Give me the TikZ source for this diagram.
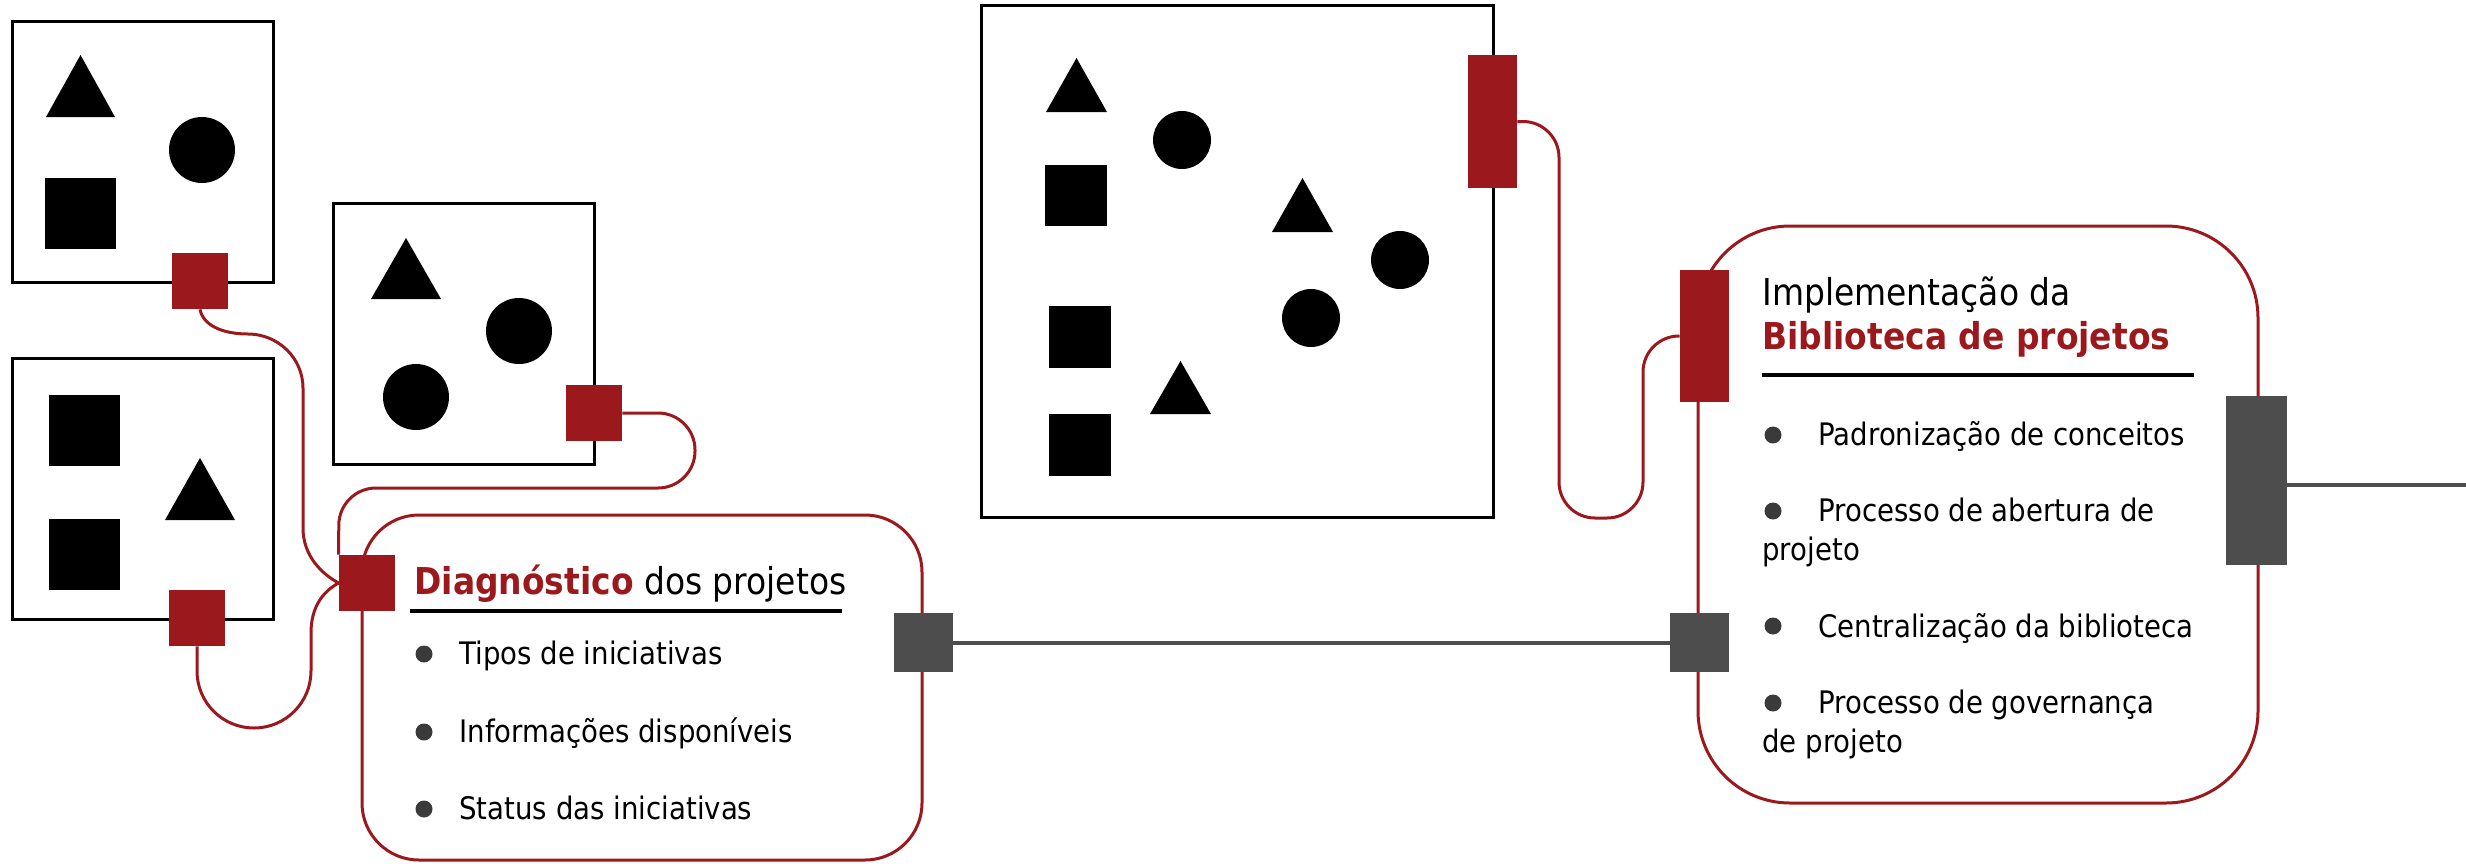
\documentclass[tikz,border=0pt]{standalone}
\usepackage{fontspec}
\setmainfont{DejaVu Sans}[FakeStretch=0.89]
\usetikzlibrary{backgrounds}
\definecolor{rd}{RGB}{155,25,29}
\definecolor{gy}{RGB}{77,77,77}
\definecolor{bl}{RGB}{58,58,58}
\begin{document}
\begin{tikzpicture}[x=0.5pt,y=-0.5pt,
  box/.style={draw=black,line width=1.5pt,inner sep=0pt,minimum width=130.5pt,minimum height=130.5pt},
  rbox/.style={draw=rd,line width=1.5pt,inner sep=0pt,minimum width=280pt},
  conn/.style={draw=rd,line width=1.5pt},
  redsq/.style={fill=rd,inner sep=0pt,minimum width=28pt,minimum height=28pt},
  redtall/.style={fill=rd,inner sep=0pt,minimum width=24.5pt,minimum height=66.5pt},
  graysq/.style={fill=gy,inner sep=0pt,minimum width=29.5pt,minimum height=29.5pt},
  gline/.style={draw=gy,line width=2pt},
  uline/.style={draw=black,line width=2pt},
  bul/.style={circle,fill=bl,inner sep=0pt,minimum size=8.5pt},
  headtxt/.style={anchor=base west,inner sep=0pt,font=\fontsize{18.5pt}{22pt}\selectfont},
  itemtxt/.style={anchor=base west,inner sep=0pt,font=\fontsize{15.5pt}{19pt}\selectfont},
]
\useasboundingbox (0,0) rectangle (2466,863);

% ---- boxes with shapes
\node[box] (A) at (142.5,151.5) {};
\node[box] (B) at (142.5,488.5) {};
\node[box] (C) at (464,334) {};
\node[box,minimum width=256pt,minimum height=256pt] (D) at (1237,261) {};

% box A shapes
\fill (46,117) -- (115,117) -- (80.5,55) -- cycle;
\fill (202,150) circle[radius=16.5pt];
\fill (45,178) rectangle (116,249);
% box B shapes
\fill (49,395) rectangle (120,466);
\fill (49,519) rectangle (120,590);
\fill (165,520) -- (235,520) -- (200,458) -- cycle;
% box C shapes
\fill (371,299) -- (441,299) -- (406,238) -- cycle;
\fill (519,331) circle[radius=16.5pt];
\fill (416,397) circle[radius=16.5pt];
% box D shapes
\fill (1046,112) -- (1107,112) -- (1076.5,58) -- cycle;
\fill (1272,232) -- (1333,232) -- (1302.5,178) -- cycle;
\fill (1150,414) -- (1211,414) -- (1180.5,361) -- cycle;
\fill (1182,140) circle[radius=14.5pt];
\fill (1400,260) circle[radius=14.5pt];
\fill (1311,318) circle[radius=14.5pt];
\fill (1045,165) rectangle (1107,226);
\fill (1049,306) rectangle (1111,368);
\fill (1049,414) rectangle (1111,476);

% ---- rounded boxes
\node[rbox,minimum height=172.5pt,rounded corners=28.5pt] (diag) at (642,687.5) {};
\node[rbox,minimum height=288.5pt,rounded corners=46pt] (impl) at (1978,514.5) {};

% ---- connector squares
\node[redsq] (ra) at (200,281) {};
\node[redsq] (rb) at (197,618) {};
\node[redsq] (rc) at (594,413) {};
\node[redsq] (rdg) at (367,583) {};
\node[redtall] (rD) at (1492.5,121.5) {};
\node[redtall,minimum height=66pt] (rI) at (1704.5,336) {};
\node[graysq] (gd) at (923.5,642.5) {};
\node[graysq] (gi) at (1699.5,642.5) {};
\node[fill=gy,inner sep=0pt,minimum width=30.5pt,minimum height=84.5pt] (gr) at (2256.5,480.5) {};
\coordinate (rightend) at (2466,485);

% ---- connectors (behind squares)
\begin{pgfonlayer}{background}
\draw[conn] (ra.south) .. controls (203,325) and (222,334) .. (248,334)
  .. controls (278,334) and (303,358) .. (303,388) -- (303,528)
  .. controls (303,556) and (322,574) .. (rdg.west);
\draw[conn] (rb.south) -- (197,671) .. controls (197,702.5) and (222.5,728) .. (254,728)
  .. controls (285.5,728) and (311,702.5) .. (311,671) -- (311,633)
  .. controls (311,608) and (322,592) .. (rdg.west);
\draw[conn,rounded corners=18.5pt] (rc.east) -- (695,413) -- (695,488) -- (339,488) -- (rdg.north west);
\draw[conn,rounded corners=18pt] (rD.east) -- (1559,121.5) -- (1559,518) -- (1643,518) -- (1643,336) -- (rI.west);
\draw[gline] (gd.east) -- (gi.west);
\draw[gline] ([yshift=-2.25pt]gr.east) -- (rightend);
\end{pgfonlayer}

% ---- texts: Diagnostico
\node[headtxt] (dh) at (414,594) {\textcolor{rd}{\textbf{Diagnóstico}} dos projetos};
\draw[uline] (410,611) -- (842,611);
\node[bul] (db1) at (424,654) {};
\node[bul] (db2) at (424,732) {};
\node[bul] (db3) at (424,809) {};
\node[itemtxt] (dt1) at (459,664) {Tipos de iniciativas};
\node[itemtxt] (dt2) at (459,742) {Informações disponíveis};
\node[itemtxt] (dt3) at (459,819) {Status das iniciativas};

% ---- texts: Implementacao
\node[headtxt] (ih1) at (1762,305) {Implementação da};
\node[headtxt] (ih2) at (1762,349) {\textcolor{rd}{\textbf{Biblioteca de projetos}}};
\draw[uline] (1762,375) -- (2194,375);
\node[bul] (ib1) at (1773,435) {};
\node[bul] (ib2) at (1773,511) {};
\node[bul] (ib3) at (1773,626) {};
\node[bul] (ib4) at (1773,703) {};
\node[itemtxt] (it1) at (1818,445) {Padronização de conceitos};
\node[itemtxt] (it2) at (1818,521) {Processo de abertura de};
\node[itemtxt] (it2b) at (1762,560) {projeto};
\node[itemtxt] (it3) at (1818,637) {Centralização da biblioteca};
\node[itemtxt] (it4) at (1818,713) {Processo de governança};
\node[itemtxt] (it4b) at (1762,752) {de projeto};
\end{tikzpicture}
\end{document}
